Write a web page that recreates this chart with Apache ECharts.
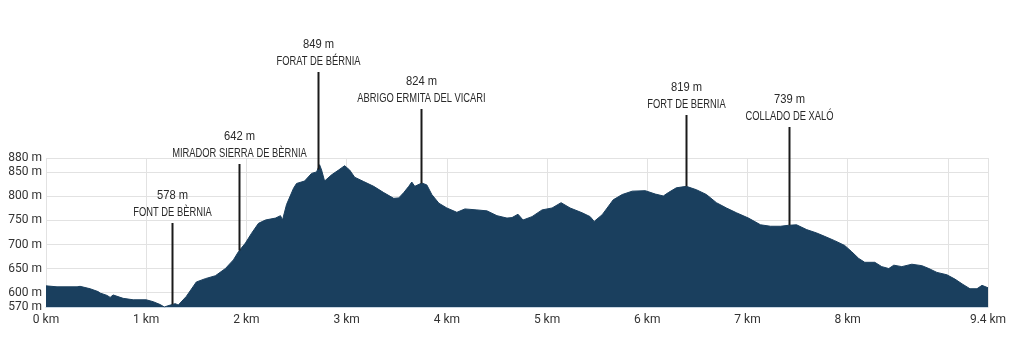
<!DOCTYPE html>
<html>
<head>
<meta charset="utf-8">
<script src="https://cdn.jsdelivr.net/npm/echarts@6/dist/echarts.min.js"></script>
<style>
html,body{margin:0;padding:0;background:#fff;}
#chart{width:1024px;height:341px;}
</style>
</head>
<body>
<div id="chart"></div>
<script>
// ---- data ----
const distKm = [0.00,0.11,0.31,0.34,0.44,0.52,0.54,0.61,0.64,0.67,0.77,0.87,1.00,1.07,1.14,1.18,1.24,1.29,1.32,1.40,1.50,1.59,1.69,1.79,1.87,1.92,1.99,2.05,2.12,2.19,2.29,2.34,2.36,2.40,2.47,2.50,2.58,2.65,2.70,2.73,2.75,2.78,2.85,2.92,2.98,3.03,3.08,3.17,3.27,3.37,3.47,3.52,3.57,3.62,3.65,3.68,3.75,3.80,3.85,3.92,4.00,4.10,4.18,4.30,4.40,4.50,4.60,4.65,4.71,4.76,4.85,4.95,5.05,5.14,5.23,5.35,5.43,5.47,5.55,5.60,5.66,5.75,5.85,5.98,6.08,6.16,6.21,6.29,6.39,6.49,6.59,6.69,6.79,6.89,7.01,7.13,7.23,7.33,7.41,7.49,7.59,7.69,7.77,7.87,7.97,8.04,8.11,8.17,8.27,8.34,8.41,8.46,8.54,8.64,8.74,8.81,8.89,8.99,9.07,9.15,9.22,9.29,9.34,9.40];
const elevM = [614,612,612,613,608,602,599,594,590,595,588,585,585,581,575,570,574,577,574,592,622,629,635,650,668,685,703,723,744,751,755,760,751,783,817,827,832,848,851,866,855,832,845,855,864,855,840,831,821,808,796,797,808,821,830,821,828,824,804,786,776,767,774,772,770,760,755,756,763,751,758,772,776,787,776,766,758,748,762,776,793,804,811,812,805,801,808,818,821,814,804,787,776,766,755,741,738,738,740,741,731,724,717,708,698,685,671,663,663,654,650,657,654,659,656,650,642,637,628,617,608,608,615,610];

const calloutKm = [1.26, 1.93, 2.71, 3.74, 6.39, 7.41];
const calloutValue = ["578 m", "642 m", "849 m", "824 m", "819 m", "739 m"];
const calloutName = ["FONT DE BÈRNIA", "MIRADOR SIERRA DE BÈRNIA", "FORAT DE BÉRNIA", "ABRIGO ERMITA DEL VICARI", "FORT DE BERNIA", "COLLADO DE XALÓ"];

const xTicks = [0,1,2,3,4,5,6,7,8,9,9.4];
const xLabelValues = [0,1,2,3,4,5,6,7,8,9.4];
const yTicks = [570,600,650,700,750,800,850,880];

// ---- layout (pixels) ----
const calloutTopPx = [223, 164, 72, 109, 115, 127];

function groundAt(km){
  for (let i=1;i<distKm.length;i++){
    if (km <= distKm[i]){
      const t=(km-distKm[i-1])/(distKm[i]-distKm[i-1]);
      return elevM[i-1]+t*(elevM[i]-elevM[i-1]);
    }
  }
  return elevM[elevM.length-1];
}

const profile = distKm.map((d,i)=>[d, elevM[i]]);
const callouts = calloutKm.map((k,i)=>[k, groundAt(k), i]);

const NAVY = '#1a3f5e';
const labelFont = '"Liberation Sans", Arial, sans-serif';

const chart = echarts.init(document.getElementById('chart'), null, {renderer:'canvas'});
chart.setOption({
  animation:false,
  backgroundColor:'#fff',
  grid:{left:46, right:36, top:158, bottom:34},
  xAxis:{
    type:'value', min:0, max:9.4,
    axisLine:{show:true, lineStyle:{color:'#c9d6e2', width:1}},
    axisTick:{show:false, customValues:xTicks},
    axisLabel:{customValues:xLabelValues, formatter:v=>v+' km', color:'#333', fontFamily:'Roboto, sans-serif', fontSize:12, margin:7},
    splitLine:{show:true, lineStyle:{color:'#e2e2e2', width:1}}
  },
  yAxis:{
    type:'value', min:570, max:880,
    axisLine:{show:false},
    axisTick:{show:false, customValues:yTicks},
    axisLabel:{customValues:yTicks, formatter:v=>v+' m', color:'#333', fontFamily:'Roboto, sans-serif', fontSize:12, margin:4},
    splitLine:{show:true, lineStyle:{color:'#e2e2e2', width:1}}
  },
  series:[
    {
      type:'line', data:profile, showSymbol:false, silent:true,
      lineStyle:{color:NAVY, width:1},
      areaStyle:{color:NAVY, opacity:1, origin:'start'},
      z:2
    },
    {
      type:'custom', data:callouts, silent:true, clip:false, z:5,
      renderItem:(params, api)=>{
        const i = api.value(2);
        const p = api.coord([api.value(0), api.value(1)]);
        const top = calloutTopPx[i];
        const x = Math.round(p[0])+0.5;
        return {
          type:'group',
          children:[
            {type:'line', shape:{x1:x, y1:p[1], x2:x, y2:top}, style:{stroke:'#1a1a1a', lineWidth:2}},
            {type:'text', x:x, y:top-11, scaleX:0.72, style:{text:calloutName[i], fill:'#2a2a2a', font:'13px '+labelFont, textAlign:'center', textVerticalAlign:'middle'}},
            {type:'text', x:x, y:top-28, scaleX:0.86, style:{text:calloutValue[i], fill:'#2a2a2a', font:'13px '+labelFont, textAlign:'center', textVerticalAlign:'middle'}}
          ]
        };
      }
    }
  ]
});
</script>
</body>
</html>
